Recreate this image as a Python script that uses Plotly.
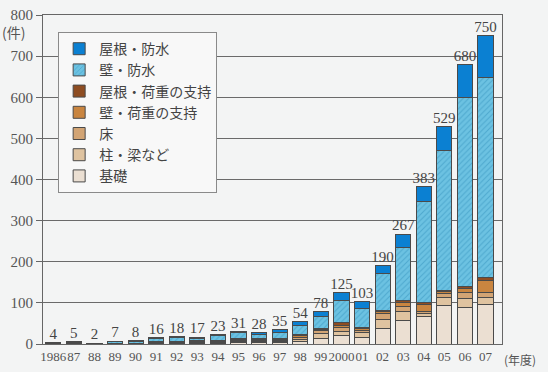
import plotly.graph_objects as go

years = ["1986", "87", "88", "89", "90", "91", "92", "93", "94", "95", "96", "97",
         "98", "99", "2000", "01", "02", "03", "04", "05", "06", "07"]
totals = [4, 5, 2, 7, 8, 16, 18, 17, 23, 31, 28, 35, 54, 78, 125, 103, 190, 267, 383, 529, 680, 750]

kiso =          [1, 1, 1, 1, 1, 2, 1, 2, 2, 3, 3, 4, 6, 14, 20, 15, 38, 58, 67, 93, 89, 97]
hashira =       [0, 1, 0, 1, 1, 2, 2, 2, 2, 3, 3, 3, 6, 12, 10, 12, 22, 21, 6, 21, 22, 15]
yuka =          [0, 0, 0, 0, 0, 1, 1, 1, 1, 2, 2, 2, 4, 6, 10, 7, 13, 12, 5, 8, 15, 14]
kabe_kaju =     [0, 0, 0, 0, 0, 1, 1, 1, 1, 2, 3, 2, 4, 3, 6, 3, 5, 9, 18, 5, 9, 28]
yane_kaju =     [1, 1, 0, 0, 0, 1, 1, 2, 2, 3, 3, 3, 4, 3, 6, 4, 4, 5, 5, 4, 5, 7]
kabe_bousui =   [1, 1, 1, 3, 4, 6, 9, 5, 12, 14, 10, 13, 20, 29, 53, 46, 90, 130, 246, 340, 460, 488]
yane_bousui =   [1, 1, 0, 2, 2, 3, 3, 4, 3, 4, 4, 8, 10, 11, 20, 16, 18, 32, 36, 58, 80, 101]

series = [
    ("基礎", kiso, "#ebdfd2"),
    ("柱・梁など", hashira, "#dfc3a0"),
    ("床", yuka, "#d2a474"),
    ("壁・荷重の支持", kabe_kaju, "#c98540"),
    ("屋根・荷重の支持", yane_kaju, "#8e4d22"),
    ("壁・防水", kabe_bousui, "#6cc2e2"),
    ("屋根・防水", yane_bousui, "#0b80d2"),
]

xs = list(range(len(years)))
serif = "Liberation Serif, DejaVu Serif, serif"
jp = "Noto Sans CJK JP"

fig = go.Figure()
for name, vals, color in series:
    marker = dict(color=color, line=dict(color="#4a4a4a", width=1))
    if name == "壁・防水":
        marker["pattern"] = dict(shape="/", fgcolor="#4ea9cf", bgcolor=color,
                                 size=4, solidity=0.25, fillmode="replace")
    fig.add_trace(go.Bar(x=xs, y=vals, name=name, marker=marker, width=0.74))

fig.add_trace(go.Scatter(
    x=xs, y=totals, mode="text", text=[str(t) for t in totals],
    textposition="top center", showlegend=False, cliponaxis=False,
    textfont=dict(family=serif, size=15, color="#444"), hoverinfo="skip"))

bg = "#f3f4f4"
fig.update_layout(
    width=548, height=372, barmode="stack", bargap=0.26,
    paper_bgcolor=bg, plot_bgcolor=bg,
    margin=dict(l=43, r=46, t=15, b=28, autoexpand=False),
    showlegend=True,
    legend=dict(x=0.033, y=0.948, xanchor="left", yanchor="top",
                traceorder="reversed", bgcolor="#f8f8f8", bordercolor="#8a8a8a",
                borderwidth=1, font=dict(family=jp, size=14, color="#444"),
                tracegroupgap=0, itemwidth=30),
    xaxis=dict(range=[-0.5, 21.8], tickvals=xs, ticktext=years, showgrid=False,
               tickangle=0, automargin=False,
               tickfont=dict(family=serif, size=13, color="#555"),
               showline=True, linecolor="#666", linewidth=1, mirror=True,
               ticks="", ticklen=0, zeroline=False),
    yaxis=dict(range=[0, 800], dtick=100, showgrid=True, gridcolor="#6a6a6a",
               gridwidth=1, automargin=False,
               tickfont=dict(family=serif, size=15, color="#555"),
               showline=True, linecolor="#666", linewidth=1, mirror=True,
               ticks="outside", ticklen=6, tickcolor="#666", zeroline=False),
    annotations=[
        dict(text="(件)", x=-43/459, y=(344-32)/329, xref="paper", yref="paper",
             showarrow=False, xanchor="left", yanchor="middle",
             font=dict(family=jp, size=14, color="#555")),
        dict(text="(年度)", x=1.0, y=-0.015, xref="paper", yref="paper", showarrow=False,
             xanchor="left", yanchor="top", font=dict(family=jp, size=12, color="#555")),
    ],
)
fig.write_html("out.html", config={"displayModeBar": False},
               post_script="document.body.style.margin='0';document.body.style.background='#f3f4f4';")
